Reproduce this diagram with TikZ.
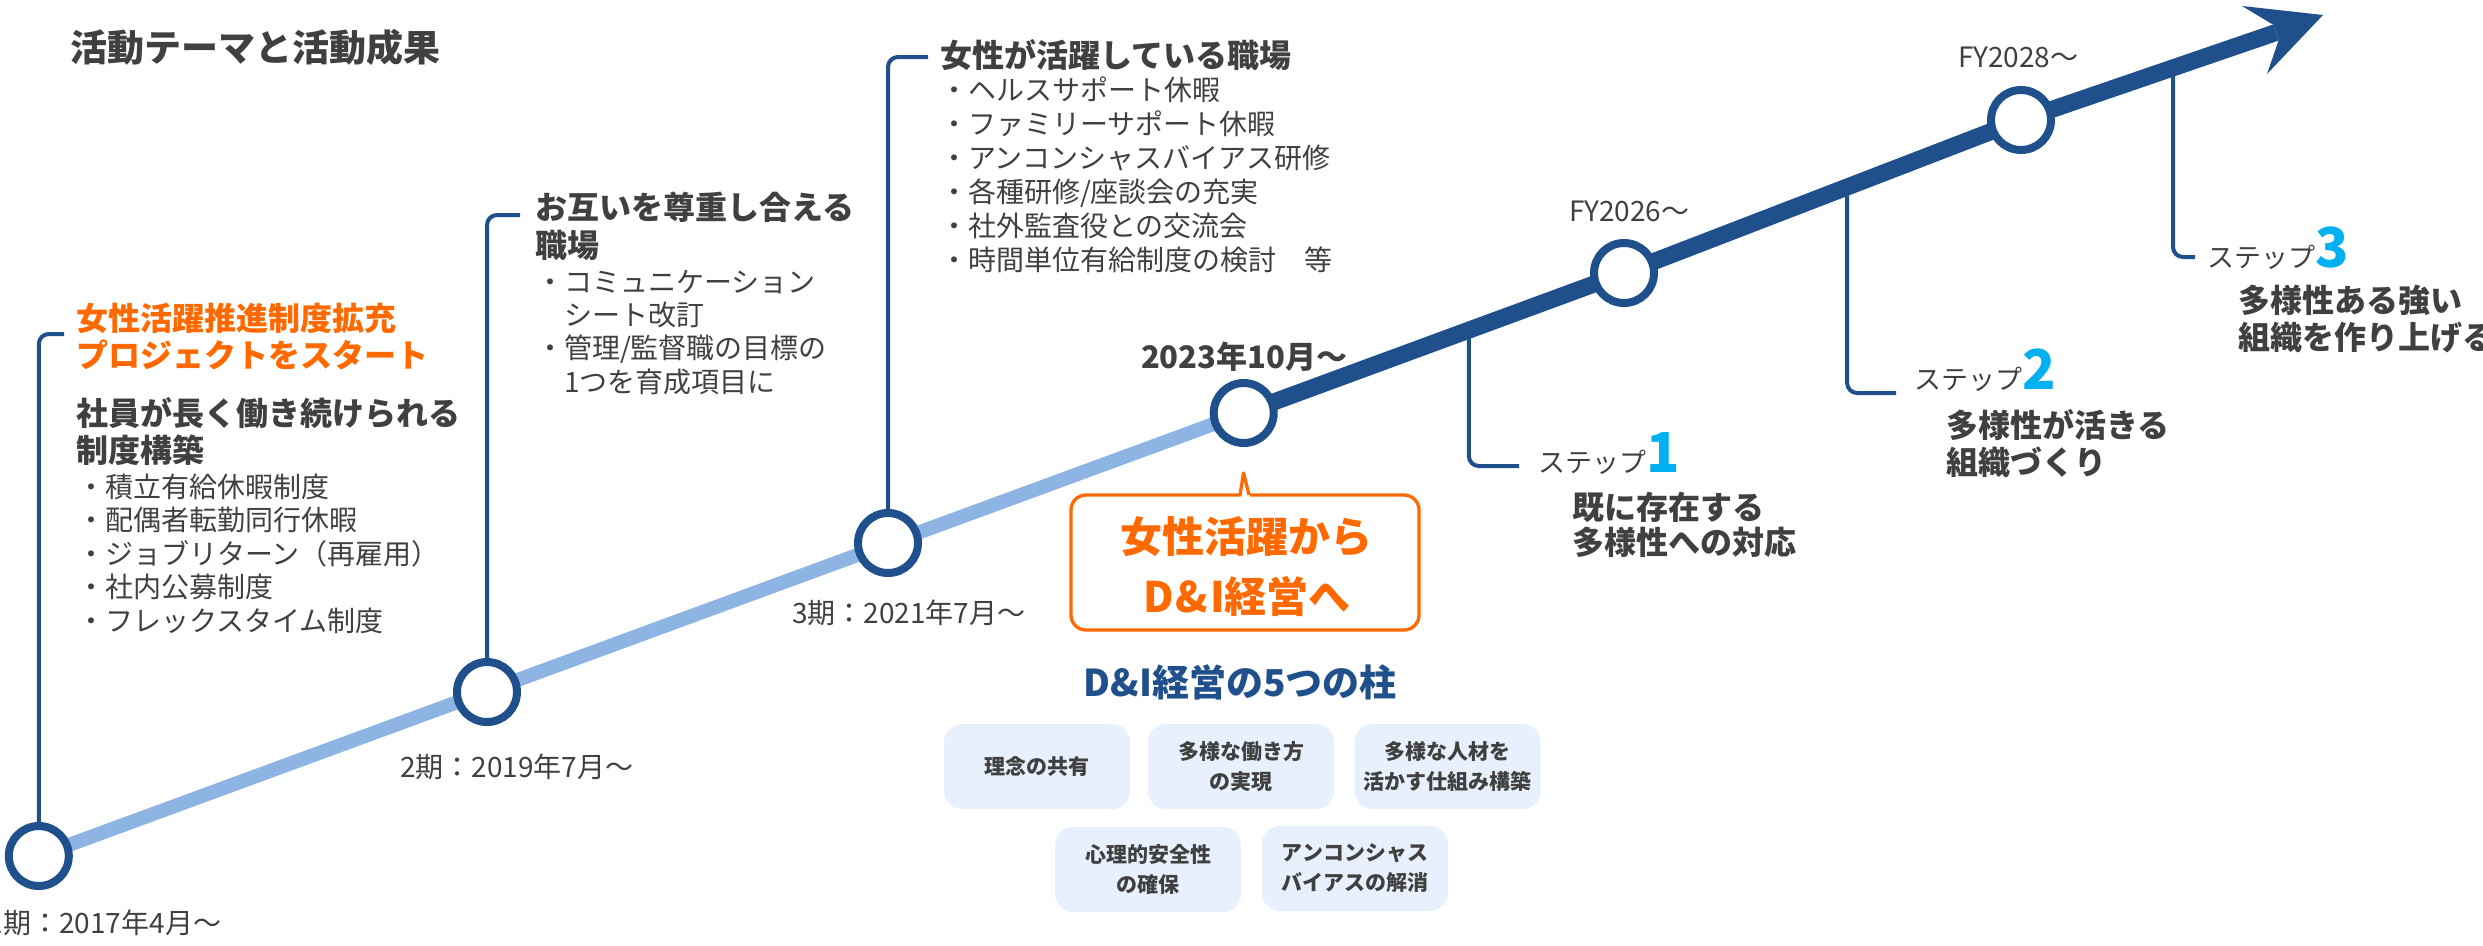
\documentclass[tikz,border=0pt]{standalone}
\usepackage{fontspec}
\setmainfont{Noto Sans CJK JP}
\usetikzlibrary{calc,backgrounds}
\definecolor{dblue}{RGB}{32,80,140}
\definecolor{lblue}{RGB}{141,180,226}
\definecolor{orng}{RGB}{255,105,0}
\definecolor{scyan}{RGB}{0,176,240}
\definecolor{tgray}{RGB}{64,64,64}
\definecolor{pfill}{RGB}{231,240,252}
\begin{document}
\begin{tikzpicture}[x=1pt,y=-1pt,
  every node/.style={inner sep=0pt, outer sep=0pt, text=tgray},
  ms/.style={circle, draw=dblue, fill=white, line width=8pt, minimum size=60pt},
  brk/.style={draw=dblue, line width=4pt, rounded corners=10pt},
  hd/.style={font=\fontsize{32}{32}\selectfont\bfseries, anchor=base west},
  bul/.style={font=\fontsize{28}{28}\selectfont, anchor=base west},
  datelab/.style={font=\fontsize{28}{28}\selectfont},
  pillar/.style={rounded corners=18pt, fill=pfill, minimum width=186pt, minimum height=85pt, align=center, font=\fontsize{21}{30}\selectfont\bfseries},
  steplab/.style={anchor=base west, font=\fontsize{27}{27}\selectfont},
]
\useasboundingbox (0,0) rectangle (2483,945);

% milestones
\node[ms] (C1) at (38.8,856) {};
\node[ms] (C2) at (487,692) {};
\node[ms] (C3) at (888,543) {};
\node[ms] (C4) at (1243.7,413) {};
\node[ms] (C5) at (1624,273) {};
\node[ms] (C6) at (2021,120) {};
\coordinate (AB) at (2276,32.5);
\fill[dblue] (2323,15) -- (2242,6) -- (2273.4,24.9) -- (2278.6,40.1) -- (2267,74) -- cycle;

\begin{pgfonlayer}{background}
  \coordinate (h1) at (64,334);
  \coordinate (h2) at (520,215);
  \coordinate (h3) at (928,57);
  \draw[brk] (C1.center) -- (C1 |- h1) -- (h1);
  \draw[brk] (C2.center) -- (C2 |- h2) -- (h2);
  \draw[brk] (C3.center) -- (C3 |- h3) -- (h3);
  \coordinate (s1) at ($(C4)!0.592!(C5)$);
  \coordinate (s2) at ($(C5)!0.562!(C6)$);
  \coordinate (s3) at ($(C6)!0.596!(AB)$);
  \coordinate (s1e) at (1519,466);
  \coordinate (s2e) at (1896,393);
  \coordinate (s3e) at (2195,257);
  \draw[brk] (s1) -- (s1 |- s1e) -- (s1e);
  \draw[brk] (s2) -- (s2 |- s2e) -- (s2e);
  \draw[brk] (s3) -- (s3 |- s3e) -- (s3e);
  \draw[lblue, line width=14pt] (C1.center) -- (C4.center);
  \draw[dblue, line width=17pt] (C4.center) -- (C5.center) -- (C6.center) -- (AB);
\end{pgfonlayer}

% title
\node[font=\fontsize{37}{37}\selectfont\bfseries, anchor=base west] (title) at (70,61) {活動テーマと活動成果};

% block 1
\node[hd, text=orng] (o1) at (76,330) {女性活躍推進制度拡充};
\node[hd, text=orng] (o2) at (76,367) {プロジェクトをスタート};
\node[hd] (g1) at (76,425) {社員が長く働き続けられる};
\node[hd] (g2) at (76,462) {制度構築};
\foreach \t [count=\i] in {積立有給休暇制度, 配偶者転勤同行休暇, ジョブリターン（再雇用）, 社内公募制度, フレックスタイム制度}
  \node[bul] (b1-\i) at (77,{463.9+33.5*\i}) {・\t};

% block 2
\node[hd] (k2a) at (535,219) {お互いを尊重し合える};
\node[hd] (k2b) at (535,257) {職場};
\node[bul] (b2-1) at (536,292.4) {・コミュニケーション};
\node[bul] (b2-2) at (564,325.4) {シート改訂};
\node[bul] (b2-3) at (536,358.4) {・管理/監督職の目標の};
\node[bul] (b2-4) at (564,392.4) {1つを育成項目に};

% block 3
\node[hd] (k3a) at (940,67) {女性が活躍している職場};
\foreach \t [count=\i] in {ヘルスサポート休暇, ファミリーサポート休暇, アンコンシャスバイアス研修, 各種研修/座談会の充実, 社外監査役との交流会, 時間単位有給制度の検討　等}
  \node[bul] (b3-\i) at (940,{66.4+34*\i}) {・\t};

% dates
\node[datelab, anchor=base east] (d1) at (221,933) {1期：2017年4月～};
\node[datelab, anchor=base west] (d2) at (400,777) {2期：2019年7月～};
\node[datelab, anchor=base west] (d3) at (792,623) {3期：2021年7月～};
\node[font=\fontsize{31}{31}\selectfont\bfseries, anchor=base west] (d4) at (1141,368) {2023年10月～};
\node[datelab, anchor=base west] (d5) at (1569,221) {FY2026～};
\node[datelab, anchor=base west] (d6) at (1958,67) {FY2028～};

% callout
\node[draw=orng, line width=3.3pt, rounded corners=15pt, minimum width=348pt, minimum height=135pt, fill=white] (call) at (1245,562.5) {};
\fill[white] ($(call.north)+(-4.5,-2.5)$) rectangle ($(call.north)+(4.5,2.5)$);
\draw[orng, line width=3.3pt, line join=round] ($(call.north)+(-5,0)$) -- ($(call.north)+(-1.5,-22)$) -- ($(call.north)+(4,0)$);
\node[font=\fontsize{42}{42}\selectfont\bfseries, text=orng, anchor=base] (ct1) at (1246,552) {女性活躍から};
\node[font=\fontsize{42}{42}\selectfont\bfseries, text=orng, anchor=base] (ct2) at (1247,612) {D\kern2pt\&\kern2pt I経営へ};

% pillars
\node[font=\fontsize{37}{37}\selectfont\bfseries, text=dblue, anchor=base] (ph) at (1240,696) {D\&I経営の5つの柱};
\node[pillar] (p1) at (1037,766.5) {理念の共有};
\node[pillar] (p2) at (1241,766.5) {多様な働き方\\の実現};
\node[pillar] (p3) at (1447.5,766.5) {多様な人材を\\活かす仕組み構築};
\node[pillar] (p4) at (1148,869.5) {心理的安全性\\の確保};
\node[pillar] (p5) at (1355,868.5) {アンコンシャス\\バイアスの解消};

% steps
\node[steplab] (st1) at (1538,472) {ステップ{\fontsize{55}{55}\selectfont\bfseries\color{scyan}1}};
\node[hd] (sd1a) at (1572,519) {既に存在する};
\node[hd] (sd1b) at (1572,554) {多様性への対応};
\node[steplab] (st2) at (1914,389) {ステップ{\fontsize{55}{55}\selectfont\bfseries\color{scyan}2}};
\node[hd] (sd2a) at (1946,437) {多様性が活きる};
\node[hd] (sd2b) at (1946,474) {組織づくり};
\node[steplab] (st3) at (2207,267) {ステップ{\fontsize{55}{55}\selectfont\bfseries\color{scyan}3}};
\node[hd] (sd3a) at (2238,312) {多様性ある強い};
\node[hd] (sd3b) at (2238,349) {組織を作り上げる};
\end{tikzpicture}
\end{document}
